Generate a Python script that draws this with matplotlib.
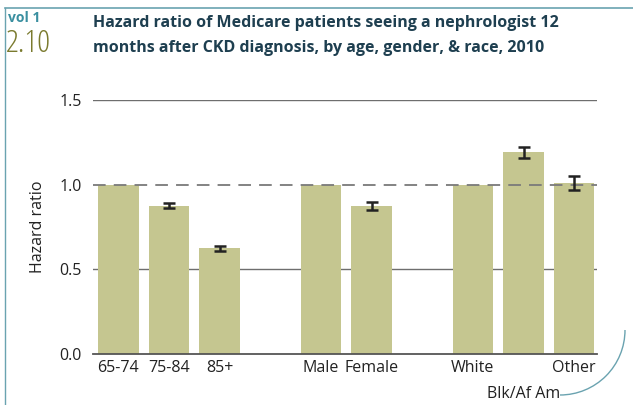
import matplotlib as mpl
import matplotlib.pyplot as plt
from matplotlib.lines import Line2D
from matplotlib.patches import Arc
import numpy as np

mpl.rcParams['font.family'] = ['Open Sans', 'DejaVu Sans']
mpl.rcParams['font.size'] = 11.5

# data
labels = ['65-74', '75-84', '85+', 'Male', 'Female', 'White', 'Blk/Af Am', 'Other']
positions = [0, 1, 2, 4, 5, 7, 8, 9]
hazard = [1.0, 0.875, 0.625, 1.0, 0.875, 1.0, 1.19, 1.01]
err_lo = [0.0, 0.86, 0.61, 0.0, 0.85, 0.0, 1.16, 0.97]
err_hi = [0.0, 0.89, 0.64, 0.0, 0.90, 0.0, 1.22, 1.05]
yticks = [0.0, 0.5, 1.0, 1.5]

bar_color = '#c5c690'
title_color = '#1e3f50'

fig = plt.figure(figsize=(6.33, 4.05), dpi=100)
ax = fig.add_axes([93/633, 1 - 354/405, 504/633, 254/405])

ax.bar(positions, hazard, width=0.8, color=bar_color, zorder=2)

# error bars only where a CI is shown
for x, h, lo, hi in zip(positions, hazard, err_lo, err_hi):
    if hi > lo:
        ax.errorbar(x, h, yerr=[[h - lo], [hi - h]], fmt='none', ecolor='#222222',
                    elinewidth=1.8, capsize=4.5, capthick=1.8, zorder=4)

for y in [0.5, 1.5]:
    ax.axhline(y, color='#6e6e6e', lw=1.0, zorder=1)
ax.axhline(1.0, color='#7a7a7a', lw=1.3, ls=(0, (7, 4.5)), zorder=3)

ax.set_xlim(-0.5, 9.45)
ax.set_ylim(0, 1.5)
ax.set_yticks(yticks)
ax.set_yticklabels(['%.1f' % v for v in yticks], color='#222222')
ax.set_xticks(positions)
# the race label sits on a second line under its bar
ax.set_xticklabels(['' if l == 'Blk/Af Am' else l for l in labels], color='#222222')
for x, l in zip(positions, labels):
    if l == 'Blk/Af Am':
        ax.text(x, -0.125, l, transform=ax.get_xaxis_transform(), ha='center',
                va='top', color='#222222')
ax.tick_params(axis='x', length=0, pad=4)
ax.tick_params(axis='y', length=0, pad=8)
for s in ['top', 'right', 'left']:
    ax.spines[s].set_visible(False)
ax.spines['bottom'].set_color('#555555')
ax.spines['bottom'].set_linewidth(1.3)
ax.set_ylabel('Hazard ratio', color='#222222', labelpad=10)

# heading
fig.text(8/633, 1 - 22/405, 'vol 1', color='#3a8fa0', fontsize=10,
         fontweight='bold', fontstretch='condensed')
fig.text(6/633, 1 - 52/405, '2.10', color='#7a7a2e', fontsize=23,
         fontstretch='condensed')
fig.text(93/633, 1 - 27/405, 'Hazard ratio of Medicare patients seeing a nephrologist 12',
         color=title_color, fontsize=11.5, fontweight='bold', fontstretch='condensed')
fig.text(93/633, 1 - 52/405, 'months after CKD diagnosis, by age, gender, & race, 2010',
         color=title_color, fontsize=11.5, fontweight='bold', fontstretch='condensed')

# frame
fig.add_artist(Line2D([5/633, 5/633], [1 - 8/405, 0], color='#6aa3b0', lw=1.0))
fig.add_artist(Line2D([5/633, 1], [1 - 8/405, 1 - 8/405], color='#6aa3b0', lw=1.2))
fig.add_artist(Arc((560/633, 1 - 330/405), 130/633, 130/405, theta1=-90, theta2=0,
                   color='#6aa3b0', lw=1.0))

fig.savefig('out.png', dpi=100)
